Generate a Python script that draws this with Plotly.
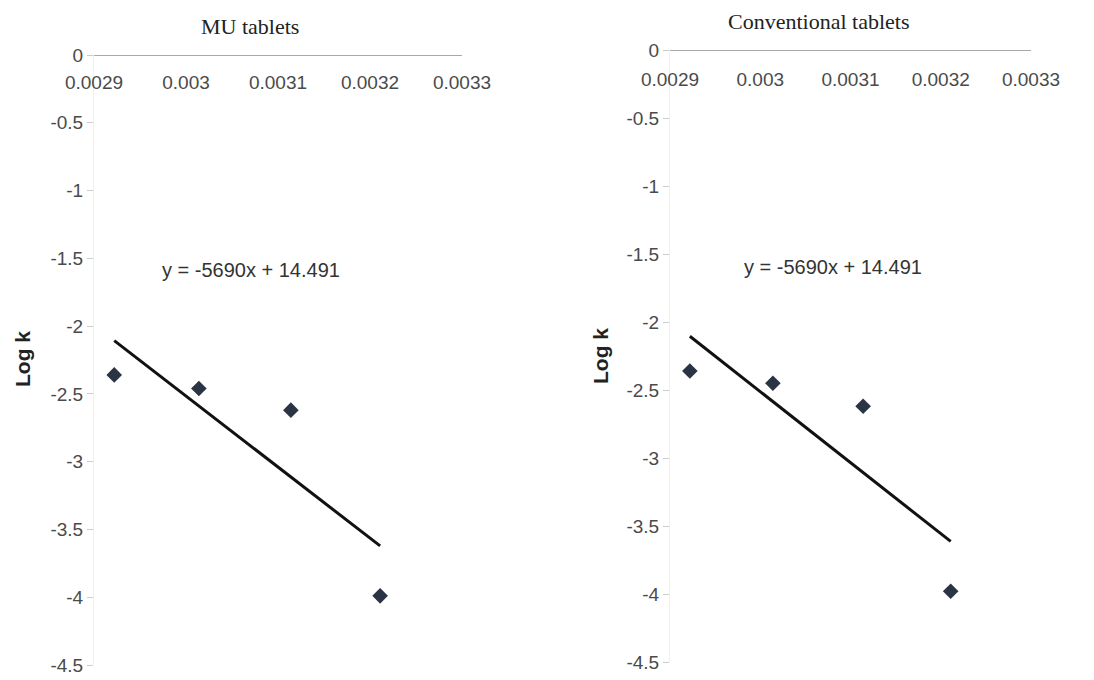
import numpy as np
import plotly.graph_objects as go

# ---- data ----
inv_temp = [0.002922, 0.003014, 0.003114, 0.003211]          # 1/T
log_k_mu = [-2.36, -2.46, -2.62, -3.99]                      # MU tablets
log_k_conv = [-2.36, -2.45, -2.62, -3.98]                    # Conventional tablets
panel_titles = ["MU tablets", "Conventional tablets"]
equation_labels = ["y = -5690x + 14.491", "y = -5690x + 14.491"]
x_tick_vals = [0.0029, 0.003, 0.0031, 0.0032, 0.0033]
x_tick_text = ["0.0029", "0.003", "0.0031", "0.0032", "0.0033"]
y_tick_vals = [0, -0.5, -1, -1.5, -2, -2.5, -3, -3.5, -4, -4.5]
y_tick_text = ["0", "-0.5", "-1", "-1.5", "-2", "-2.5", "-3", "-3.5", "-4", "-4.5"]
y_title = "Log k"

# the page body has an 8px margin: size the figure so it fits the window
OFF = 8
W, H = 1094 - OFF, 680 - OFF


def fx(px):
    return (px - OFF) / W


def fy(py):
    return 1 - (py - OFF) / H


fig = go.Figure()

series = [log_k_mu, log_k_conv]
xdomains = [[fx(94), fx(462)], [fx(670), fx(1031)]]
ydomains = [[fy(665), fy(55)], [fy(662), fy(50)]]
title_pos = [(fx(250), fy(26)), (fx(818), fy(21))]
ytitle_pos = [(fx(22), fy(359)), (fx(600), fy(356))]
eq_pos = [(fx(251), fy(270)), (fx(833), fy(267))]
label_standoff = [10, 12]

tick_font = dict(family="Liberation Sans, Arial, sans-serif", size=19, color="#4a4a4a")

for i, yvals in enumerate(series):
    xa = "x" if i == 0 else "x2"
    ya = "y" if i == 0 else "y2"
    # data points
    fig.add_trace(go.Scatter(
        x=inv_temp, y=yvals, mode="markers", xaxis=xa, yaxis=ya,
        marker=dict(symbol="diamond", size=12, color="#2b3445"),
        showlegend=False, hoverinfo="x+y"))
    # linear trendline fitted to the data
    slope, intercept = np.polyfit(inv_temp, yvals, 1)
    xs = [min(inv_temp), max(inv_temp)]
    fig.add_trace(go.Scatter(
        x=xs, y=[slope * v + intercept for v in xs], mode="lines",
        xaxis=xa, yaxis=ya, line=dict(color="#111111", width=3),
        showlegend=False, hoverinfo="skip"))

    sfx = "" if i == 0 else "2"
    fig.update_layout(**{
        f"xaxis{sfx}": dict(
            domain=xdomains[i], anchor="free", position=ydomains[i][1], side="bottom",
            range=[0.0029, 0.0033],
            tickvals=x_tick_vals, ticktext=x_tick_text, ticks="",
            ticklabelstandoff=label_standoff[i],
            showline=True, linecolor="#a8a8a8", linewidth=1,
            showgrid=False, zeroline=False, tickfont=tick_font, automargin=False),
        f"yaxis{sfx}": dict(
            domain=ydomains[i], anchor=xa, range=[-4.5, 0],
            tickvals=y_tick_vals, ticktext=y_tick_text,
            ticks="outside", ticklen=6, tickcolor="#cccccc", tickwidth=1,
            showline=True, linecolor="#f0f0f0", linewidth=1,
            showgrid=False, zeroline=False, tickfont=tick_font, automargin=False),
    })

    fig.add_annotation(x=title_pos[i][0], y=title_pos[i][1], xref="paper", yref="paper",
                       text=panel_titles[i], showarrow=False, xanchor="center", yanchor="middle",
                       font=dict(family="Liberation Serif, Times New Roman, serif", size=22, color="#222222"))
    fig.add_annotation(x=ytitle_pos[i][0], y=ytitle_pos[i][1], xref="paper", yref="paper",
                       text=f"<b>{y_title}</b>", showarrow=False, textangle=-90,
                       xanchor="center", yanchor="middle",
                       font=dict(family="Liberation Sans, Arial, sans-serif", size=21, color="#222222"))
    fig.add_annotation(x=eq_pos[i][0], y=eq_pos[i][1], xref="paper", yref="paper",
                       text=equation_labels[i], showarrow=False, xanchor="center", yanchor="middle",
                       font=dict(family="Liberation Sans, Arial, sans-serif", size=20, color="#333333"))

fig.update_layout(
    width=W, height=H, template="none",
    margin=dict(l=0, r=0, t=0, b=0),
    paper_bgcolor="white", plot_bgcolor="white",
    showlegend=False,
)

fig.write_html("out.html")
